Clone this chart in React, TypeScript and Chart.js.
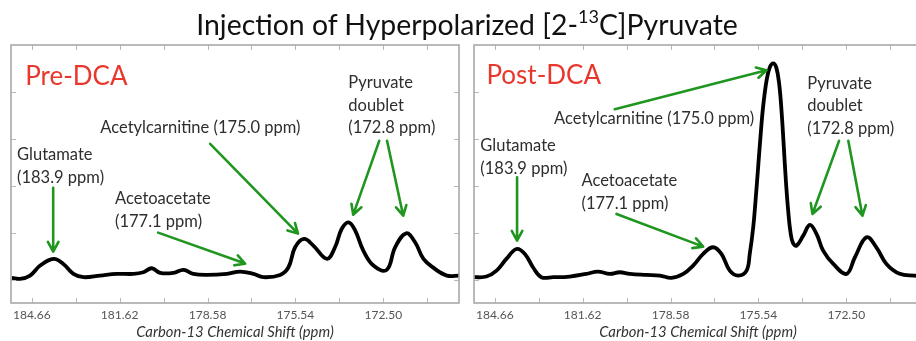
import React, { useEffect, useRef } from "react";
import { Chart, registerables } from "chart.js";

Chart.register(...registerables);

// ---- axis ----
const X_MIN = 169.88;
const X_MAX = 185.38;
const Y_MIN = -0.5;
const Y_MAX = 5;
const X_TICKS = [184.66, 183.14, 181.62, 180.1, 178.58, 177.06, 175.54, 174.02, 172.5, 170.98];
const X_TICK_LABELS = ["184.66", "", "181.62", "", "178.58", "", "175.54", "", "172.50", ""];
const Y_TICKS = [0, 1, 2, 3, 4];
const X_TITLE = "Carbon-13 Chemical Shift (ppm)";

// ---- Pre-DCA spectrum ----
const preShift = [
  185.35, 185.07, 184.72, 184.37, 183.91, 183.57, 183.22, 182.87, 182.3, 181.72,
  181.14, 180.8, 180.51, 180.22, 179.76, 179.41, 179.07, 178.61, 177.91, 177.45,
  176.99, 176.65, 176.07, 175.78, 175.55, 175.24, 174.92, 174.45, 174.17, 173.94,
  173.7, 173.47, 173.19, 172.84, 172.38, 172.09, 171.71, 171.4, 171.11, 170.76,
  170.3, 169.86,
];
const preIntensity = [
  0.035, 0.014, 0.085, 0.298, 0.44, 0.333, 0.121, 0.05, 0.085, 0.121,
  0.121, 0.156, 0.241, 0.142, 0.142, 0.206, 0.121, 0.099, 0.121, 0.17,
  0.121, 0.05, 0.099, 0.262, 0.688, 0.865, 0.723, 0.44, 0.688, 1.078,
  1.22, 1.043, 0.617, 0.298, 0.206, 0.688, 0.986, 0.794, 0.44, 0.248,
  0.085, 0.085,
];

// ---- Post-DCA spectrum ----
const postShift = [
  185.41, 184.95, 184.6, 184.26, 183.91, 183.62, 183.34, 183.05, 182.64, 182.07,
  181.49, 181.09, 180.68, 180.34, 179.99, 179.41, 178.95, 178.55, 178.14, 177.8,
  177.45, 177.11, 176.82, 176.53, 176.24, 175.95, 175.84, 175.72, 175.63, 175.55,
  175.47, 175.38, 175.26, 175.15, 175.03, 174.92, 174.82, 174.74, 174.66, 174.59,
  174.51, 174.43, 174.34, 174.22, 173.99, 173.76, 173.53, 173.3, 172.95, 172.49,
  172.2, 171.8, 171.46, 171.11, 170.65, 170.15, 169.85,
];
const postIntensity = [
  0.05, 0.064, 0.191, 0.44, 0.652, 0.546, 0.262, 0.05, 0.05, 0.064,
  0.121, 0.17, 0.121, 0.156, 0.121, 0.099, 0.085, 0.035, 0.121, 0.298,
  0.546, 0.688, 0.546, 0.191, 0.085, 0.191, 0.546, 1.113, 1.752, 2.39,
  3.028, 3.667, 4.234, 4.518, 4.61, 4.518, 4.163, 3.596, 2.816, 2.106,
  1.468, 1.007, 0.773, 0.723, 0.936, 1.163, 0.972, 0.617, 0.333, 0.121,
  0.475, 0.901, 0.688, 0.333, 0.121, 0.085, 0.08,
];

// ---- annotations (data coordinates: ppm, intensity) ----
const preName = { text: "Pre-DCA", ppm: 184.89, y: 4.32 };
const postName = { text: "Post-DCA", ppm: 184.95, y: 4.34 };

const preLabels = [
  { lines: ["Pyruvate", "doublet", "(172.8 ppm)"], ppm: 173.71, y: 4.19 },
  { lines: ["Acetylcarnitine (175.0 ppm)"], ppm: 182.29, y: 3.234 },
  { lines: ["Glutamate", "(183.9 ppm)"], ppm: 185.17, y: 2.66 },
  { lines: ["Acetoacetate", "(177.1 ppm)"], ppm: 181.78, y: 1.723 },
];
const postLabels = [
  { lines: ["Pyruvate", "doublet", "(172.8 ppm)"], ppm: 173.85, y: 4.177 },
  { lines: ["Acetylcarnitine (175.0 ppm)"], ppm: 182.61, y: 3.419 },
  { lines: ["Glutamate", "(183.9 ppm)"], ppm: 185.16, y: 2.851 },
  { lines: ["Acetoacetate", "(177.1 ppm)"], ppm: 181.66, y: 2.106 },
];

// arrows: [fromPpm, fromY, toPpm, toY]
const preArrows = [
  [183.92, 1.957, 183.92, 0.596],
  [180.29, 1.0, 177.28, 0.34],
  [178.49, 2.894, 175.45, 0.979],
  [172.64, 2.957, 173.54, 1.383],
  [172.37, 2.957, 171.81, 1.362],
];
const postArrows = [
  [183.89, 2.177, 183.89, 0.83],
  [180.45, 1.398, 177.45, 0.702],
  [180.51, 3.632, 175.26, 4.462],
  [172.75, 2.957, 173.67, 1.398],
  [172.43, 2.957, 171.94, 1.362],
];

const FONT = "Lato, 'Open Sans', sans-serif";
const GREEN = "rgb(32,150,32)";

type Label = { lines: string[]; ppm: number; y: number };
type Name = { text: string; ppm: number; y: number };

function makeOverlay(name: Name, labels: Label[], arrows: number[][]) {
  return {
    id: "overlay",
    afterDatasetsDraw(chart: any) {
      const { ctx, chartArea: a, scales } = chart;
      const x = scales.x;
      const y = scales.y;
      ctx.save();
      // inward ticks
      ctx.strokeStyle = "#b8b8b8";
      ctx.lineWidth = 1;
      ctx.beginPath();
      X_TICKS.forEach((v) => {
        const px = Math.round(x.getPixelForValue(v)) + 0.5;
        ctx.moveTo(px, a.top);
        ctx.lineTo(px, a.top + 5);
        ctx.moveTo(px, a.bottom);
        ctx.lineTo(px, a.bottom - 5);
      });
      Y_TICKS.forEach((v) => {
        const py = Math.round(y.getPixelForValue(v)) + 0.5;
        ctx.moveTo(a.left, py);
        ctx.lineTo(a.left + 5, py);
        ctx.moveTo(a.right, py);
        ctx.lineTo(a.right - 5, py);
      });
      ctx.stroke();
      // box
      ctx.strokeStyle = "#a8a8a8";
      ctx.lineWidth = 1.6;
      ctx.strokeRect(a.left, a.top, a.right - a.left, a.bottom - a.top);

      // arrows
      ctx.strokeStyle = GREEN;
      ctx.lineWidth = 2.6;
      ctx.lineCap = "round";
      ctx.lineJoin = "round";
      arrows.forEach(([p1, v1, p2, v2]) => {
        const x1 = x.getPixelForValue(p1);
        const y1 = y.getPixelForValue(v1);
        const x2 = x.getPixelForValue(p2);
        const y2 = y.getPixelForValue(v2);
        const ang = Math.atan2(y2 - y1, x2 - x1);
        const hl = 11;
        const ha = 0.5;
        ctx.beginPath();
        ctx.moveTo(x1, y1);
        ctx.lineTo(x2, y2);
        ctx.moveTo(x2 - hl * Math.cos(ang - ha), y2 - hl * Math.sin(ang - ha));
        ctx.lineTo(x2, y2);
        ctx.lineTo(x2 - hl * Math.cos(ang + ha), y2 - hl * Math.sin(ang + ha));
        ctx.stroke();
      });

      // labels
      ctx.fillStyle = "#2e2e2e";
      ctx.font = `16.5px ${FONT}`;
      ctx.textBaseline = "middle";
      ctx.textAlign = "left";
      labels.forEach((l) => {
        const lx = x.getPixelForValue(l.ppm);
        const ly = y.getPixelForValue(l.y);
        l.lines.forEach((t, i) => ctx.fillText(t, lx, ly + i * 22.5));
      });

      // panel name
      ctx.fillStyle = "#e8372c";
      ctx.font = `26px ${FONT}`;
      ctx.fillText(name.text, x.getPixelForValue(name.ppm), y.getPixelForValue(name.y));
      ctx.restore();
    },
  };
}

function Panel(props: {
  left: number;
  shift: number[];
  intensity: number[];
  name: Name;
  labels: Label[];
  arrows: number[][];
}) {
  const ref = useRef<HTMLCanvasElement | null>(null);
  useEffect(() => {
    if (!ref.current) return;
    const chart = new Chart(ref.current, {
      type: "scatter",
      data: {
        datasets: [
          {
            data: props.shift.map((v, i) => ({ x: v, y: props.intensity[i] })),
            showLine: true,
            borderColor: "#000",
            borderWidth: 3.8,
            pointRadius: 0,
            tension: 0.4,
            fill: false,
          },
        ],
      },
      options: {
        animation: false,
        responsive: false,
        events: [],
        layout: { padding: { left: 11, right: 11, top: 45, bottom: 0 } },
        plugins: { legend: { display: false }, tooltip: { enabled: false } },
        scales: {
          x: {
            type: "linear",
            reverse: true,
            min: X_MIN,
            max: X_MAX,
            afterBuildTicks: (s: any) => {
              s.ticks = X_TICKS.map((v) => ({ value: v }));
            },
            afterFit: (s: any) => {
              s.height = 38;
            },
            ticks: {
              autoSkip: false,
              maxRotation: 0,
              padding: 5,
              color: "#555",
              font: { family: FONT, size: 12 },
              callback: (_v: any, i: number) => X_TICK_LABELS[i],
            },
            grid: { display: false, drawTicks: false },
            border: { display: false },
            title: {
              display: true,
              text: X_TITLE,
              color: "#333",
              font: { family: FONT, size: 14.8, style: "italic" },
              padding: 0,
            },
          },
          y: { display: false, min: Y_MIN, max: Y_MAX },
        },
      },
      plugins: [makeOverlay(props.name, props.labels, props.arrows)],
    } as any);
    return () => chart.destroy();
  }, []);
  return (
    <canvas
      ref={ref}
      width={470}
      height={341}
      style={{ position: "absolute", left: props.left, top: 0, width: 470, height: 341 }}
    />
  );
}

export default function App() {
  return (
    <div
      style={{
        position: "fixed",
        left: 0,
        top: 0,
        width: 916,
        height: 341,
        overflow: "hidden",
        background: "#fff",
      }}
    >
      <Panel left={0} shift={preShift} intensity={preIntensity} name={preName} labels={preLabels} arrows={preArrows} />
      <Panel left={463} shift={postShift} intensity={postIntensity} name={postName} labels={postLabels} arrows={postArrows} />
      <div
        style={{
          position: "absolute",
          left: 9,
          top: 10,
          width: 916,
          textAlign: "center",
          fontFamily: FONT,
          fontSize: 28.4,
          lineHeight: "29px",
          color: "#111",
          whiteSpace: "nowrap",
        }}
      >
        Injection of Hyperpolarized [2-
        <span style={{ fontSize: 18, position: "relative", top: -12 }}>13</span>
        C]Pyruvate
      </div>
    </div>
  );
}
